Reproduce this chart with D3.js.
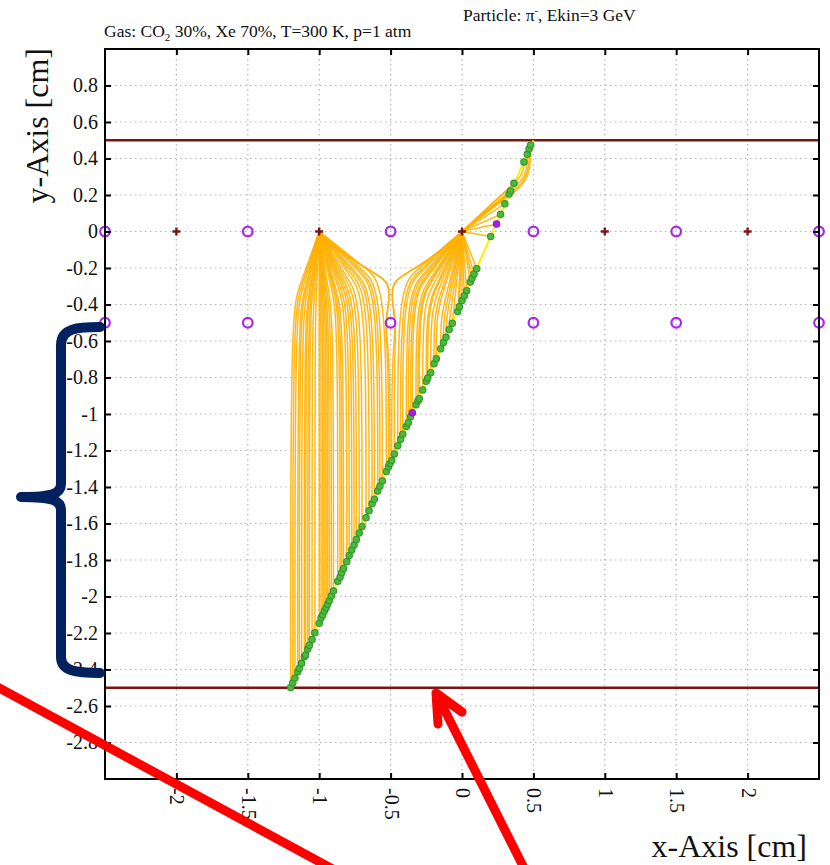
<!DOCTYPE html>
<html>
<head>
<meta charset="utf-8">
<script src="https://cdn.jsdelivr.net/npm/d3@7"></script>
<style>
  body { margin: 0; background: #fff; }
  svg { display: block; }
  text { font-family: "Liberation Serif", "Times New Roman", serif; }
</style>
</head>
<body>
<svg id="chart" width="830" height="865"></svg>
<script>
// ---- axis ticks ----
const xTicks = [-2, -1.5, -1, -0.5, 0, 0.5, 1, 1.5, 2];
const xTickLabels = ["-2", "-1.5", "-1", "-0.5", "0", "0.5", "1", "1.5", "2"];
const yTicks = [-2.8, -2.6, -2.4, -2.2, -2, -1.8, -1.6, -1.4, -1.2, -1, -0.8, -0.6, -0.4, -0.2, 0, 0.2, 0.4, 0.6, 0.8];
const yTickLabels = ["-2.8", "-2.6", "-2.4", "-2.2", "-2", "-1.8", "-1.6", "-1.4", "-1.2", "-1", "-0.8", "-0.6", "-0.4", "-0.2", "0", "0.2", "0.4", "0.6", "0.8"];

// ---- cell geometry (cm) ----
const anodeX = [-2, -1, 0, 1, 2];
const anodeY = [0, 0, 0, 0, 0];
const cathodeX = [-2.5, -1.5, -0.5, 0.5, 1.5, 2.5, -2.5, -1.5, -0.5, 0.5, 1.5, 2.5];
const cathodeY = [0, 0, 0, 0, 0, 0, -0.5, -0.5, -0.5, -0.5, -0.5, -0.5];
const planeY = [0.5, -2.5];

// ---- particle track (cm) ----
const trackX = [-1.2, 0.5];
const trackY = [-2.5, 0.5];

// ---- ionisation electrons along the track (cm); kind 0 = green, 1 = violet ----
const clusterX = [-1.200, -1.185, -1.170, -1.150, -1.139, -1.123, -1.104, -1.095, -1.080, -1.069,
                  -1.050, -1.030, -1.000, -0.987, -0.975, -0.964, -0.952, -0.941, -0.930, -0.915,
                  -0.900, -0.870, -0.854, -0.842, -0.830, -0.807, -0.790, -0.772, -0.756, -0.740,
                  -0.720, -0.700, -0.672, -0.651, -0.630, -0.614, -0.590, -0.575, -0.558, -0.530,
                  -0.515, -0.505, -0.492, -0.474, -0.450, -0.430, -0.415, -0.390, -0.376, -0.360,
                  -0.348, -0.322, -0.308, -0.299, -0.275, -0.250, -0.240, -0.219, -0.196, -0.180,
                  -0.149, -0.130, -0.112, -0.090, -0.068, -0.030, -0.019, 0.000, 0.016, 0.033,
                  0.058, 0.070, 0.084, 0.103, 0.201, 0.242, 0.270, 0.300, 0.330, 0.341,
                  0.364, 0.434, 0.457, 0.470, 0.481];
const clusterY = [-2.498, -2.473, -2.447, -2.412, -2.393, -2.366, -2.330, -2.321, -2.288, -2.267,
                  -2.235, -2.199, -2.146, -2.116, -2.102, -2.079, -2.062, -2.043, -2.023, -1.997,
                  -1.970, -1.917, -1.895, -1.870, -1.846, -1.809, -1.775, -1.745, -1.718, -1.687,
                  -1.652, -1.616, -1.568, -1.530, -1.492, -1.467, -1.422, -1.396, -1.367, -1.315,
                  -1.289, -1.271, -1.255, -1.219, -1.174, -1.139, -1.111, -1.068, -1.048, -1.015,
                  -0.993, -0.949, -0.927, -0.916, -0.868, -0.821, -0.803, -0.774, -0.724, -0.697,
                  -0.642, -0.608, -0.580, -0.537, -0.503, -0.439, -0.412, -0.378, -0.353, -0.324,
                  -0.277, -0.256, -0.233, -0.204, -0.027, 0.041, 0.094, 0.152, 0.205, 0.222,
                  0.264, 0.381, 0.423, 0.453, 0.474];
const clusterKind = [0, 0, 0, 0, 0, 0, 0, 0, 0, 0,
                     0, 0, 0, 0, 0, 0, 0, 0, 0, 0,
                     0, 0, 0, 0, 0, 0, 0, 0, 0, 0,
                     0, 0, 0, 0, 0, 0, 0, 0, 0, 0,
                     0, 0, 0, 0, 0, 0, 0, 0, 0, 0,
                     1, 0, 0, 0, 0, 0, 0, 0, 0, 0,
                     0, 0, 0, 0, 0, 0, 0, 0, 0, 0,
                     0, 0, 0, 0, 0, 1, 0, 0, 0, 0,
                     0, 0, 0, 0, 0];

// ---- layout ----
const svg = d3.select("#chart");
const box = { left: 105, right: 819, top: 49, bottom: 779 };
const x = d3.scaleLinear().domain([-2.5, 2.5]).range([box.left, box.right]);
const y = d3.scaleLinear().domain([-3, 1]).range([box.bottom, box.top]);

// ---- grid ----
const grid = svg.append("g").attr("stroke", "#b4b4b4").attr("stroke-width", 1.2)
  .attr("stroke-dasharray", "1.5 3.5");
grid.selectAll("line.gx").data(xTicks).join("line").attr("class", "gx")
  .attr("x1", d => x(d)).attr("x2", d => x(d)).attr("y1", box.top).attr("y2", box.bottom);
grid.selectAll("line.gy").data(yTicks).join("line").attr("class", "gy")
  .attr("y1", d => y(d)).attr("y2", d => y(d)).attr("x1", box.left).attr("x2", box.right);

// ---- cathode planes ----
svg.append("g").selectAll("line").data(planeY).join("line")
  .attr("x1", box.left).attr("x2", box.right)
  .attr("y1", d => y(d)).attr("y2", d => y(d))
  .attr("stroke", "#7c1414").attr("stroke-width", 2.4);

// ---- drift lines: each electron rises towards its nearest anode wire ----
function driftPoints(x0, y0) {
  const ax = x0 < -0.5 ? -1 : 0;
  const dx = x0 - ax;
  if (Math.abs(x0 + 0.5) < 0.03) {
    // passes the cathode wire at (-0.5,-0.5) and splits at the field saddle
    const s = x0 < -0.5 ? -1 : 1;
    return [[x0, y0], [x0, -0.7], [-0.5 + s * 0.04, -0.5], [-0.5 + s * 0.012, -0.4],
            [-0.5 + s * 0.006, -0.28], [-0.5 + s * 0.1, -0.235], [-0.5 + s * 0.3, -0.14], [ax, 0]];
  }
  const side = y0 < 0 ? -1 : 1;
  let yt = side * 0.55 * (1 - Math.abs(dx));
  const pts = [[x0, y0]];
  if (Math.abs(y0) > Math.abs(yt)) pts.push([x0, yt]); else yt = y0;
  pts.push([ax + dx * 0.7, yt * 0.7], [ax + dx * 0.35, yt * 0.35], [ax, 0]);
  return pts;
}
const drift = d3.line().x(d => x(d[0])).y(d => y(d[1])).curve(d3.curveBasis);
svg.append("g").attr("fill", "none").attr("stroke", "#ffb000")
  .attr("stroke-width", 1.5).attr("stroke-opacity", 0.9)
  .selectAll("path").data(d3.range(clusterX.length)).join("path")
  .attr("d", i => drift(driftPoints(clusterX[i], clusterY[i])));

// ---- track ----
svg.append("path")
  .attr("d", d3.line().x(d => x(d[0])).y(d => y(d[1]))(trackX.map((v, i) => [v, trackY[i]])))
  .attr("stroke", "#ffee00").attr("stroke-width", 2).attr("fill", "none");

// ---- ionisation points ----
svg.append("g").selectAll("circle").data(d3.range(clusterX.length)).join("circle")
  .attr("cx", i => x(clusterX[i])).attr("cy", i => y(clusterY[i])).attr("r", 3.2)
  .attr("fill", i => clusterKind[i] ? "#a020f0" : "#4cb83c")
  .attr("stroke", i => clusterKind[i] ? "#8a18d0" : "#2e962e").attr("stroke-width", 1.1);

// ---- wires ----
svg.append("g").selectAll("circle").data(d3.range(cathodeX.length)).join("circle")
  .attr("cx", i => x(cathodeX[i])).attr("cy", i => y(cathodeY[i])).attr("r", 4.8)
  .attr("fill", "none").attr("stroke", "#a626f2").attr("stroke-width", 2.2);
svg.append("g").selectAll("path").data(d3.range(anodeX.length)).join("path")
  .attr("d", i => { const cx = x(anodeX[i]), cy = y(anodeY[i]);
    return `M${cx - 4},${cy}H${cx + 4}M${cx},${cy - 4}V${cy + 4}`; })
  .attr("stroke", "#741818").attr("stroke-width", 2.4);

// ---- axes ----
function styleAxis(g) {
  g.select(".domain").remove();
  g.selectAll(".tick line").attr("stroke", "#000").attr("stroke-width", 2);
  g.attr("font-family", "Liberation Serif, Times New Roman, serif").attr("font-size", 20);
  g.selectAll("text").attr("fill", "#111");
}
svg.append("g").attr("transform", `translate(${box.left},0)`)
  .call(d3.axisLeft(y).tickValues(yTicks).tickFormat((d, i) => yTickLabels[i])
    .tickSizeInner(-6).tickSizeOuter(0).tickPadding(7))
  .call(styleAxis)
  .call(g => g.selectAll("text").attr("dy", "0.32em"));
svg.append("g").attr("transform", `translate(${box.right},0)`)
  .call(d3.axisRight(y).tickValues(yTicks).tickFormat("").tickSizeInner(-6).tickSizeOuter(0))
  .call(styleAxis);
svg.append("g").attr("transform", `translate(0,${box.top})`)
  .call(d3.axisTop(x).tickValues(xTicks).tickFormat("").tickSizeInner(-6).tickSizeOuter(0))
  .call(styleAxis);
svg.append("g").attr("transform", `translate(0,${box.bottom})`)
  .call(d3.axisBottom(x).tickValues(xTicks).tickFormat((d, i) => xTickLabels[i])
    .tickSizeInner(-6).tickSizeOuter(0))
  .call(styleAxis)
  .call(g => g.selectAll("text").attr("transform", "rotate(90)")
    .attr("x", 9).attr("y", 0).attr("dy", "0.32em").attr("text-anchor", "start"));

// ---- frame ----
svg.append("rect").attr("x", box.left).attr("y", box.top)
  .attr("width", box.right - box.left).attr("height", box.bottom - box.top)
  .attr("fill", "none").attr("stroke", "#000").attr("stroke-width", 2);

// ---- titles ----
const t1 = svg.append("text").attr("x", 463).attr("y", 21).attr("font-size", 17.5).attr("fill", "#111");
t1.append("tspan").text("Particle: π");
t1.append("tspan").attr("dy", -7).attr("font-size", 10).text("-");
t1.append("tspan").attr("dy", 7).text(", Ekin=3 GeV");

const t2 = svg.append("text").attr("x", 104).attr("y", 37).attr("font-size", 17.5).attr("fill", "#111");
t2.append("tspan").text("Gas: CO");
t2.append("tspan").attr("dy", 4).attr("font-size", 11).text("2");
t2.append("tspan").attr("dy", -4).text(" 30%, Xe 70%, T=300 K, p=1 atm");

svg.append("text").attr("x", 807).attr("y", 857).attr("text-anchor", "end")
  .attr("font-size", 32).attr("fill", "#111").text("x-Axis [cm]");
svg.append("text").attr("transform", "translate(48,48) rotate(-90)").attr("text-anchor", "end")
  .attr("font-size", 32).attr("fill", "#111").text("y-Axis [cm]");

// ---- annotations: brace over the drift region and red pointers ----
svg.append("path")
  .attr("d", "M100,327 C78,327 61,328 61,345 L61,484 C61,494 52,497 21,497 C52,497 61,500 61,510 L61,657 C61,671 76,673 100,673")
  .attr("fill", "none").attr("stroke", "#04215f").attr("stroke-width", 10)
  .attr("stroke-linecap", "round").attr("stroke-linejoin", "round");
svg.append("line").attr("x1", -10).attr("y1", 683).attr("x2", 340).attr("y2", 873)
  .attr("stroke", "#ff0000").attr("stroke-width", 9);
svg.append("path").attr("d", "M526,872 L436,693 M438,724 L436,693 L462,712")
  .attr("fill", "none").attr("stroke", "#ff0000").attr("stroke-width", 9)
  .attr("stroke-linecap", "round").attr("stroke-linejoin", "round");
</script>
</body>
</html>
